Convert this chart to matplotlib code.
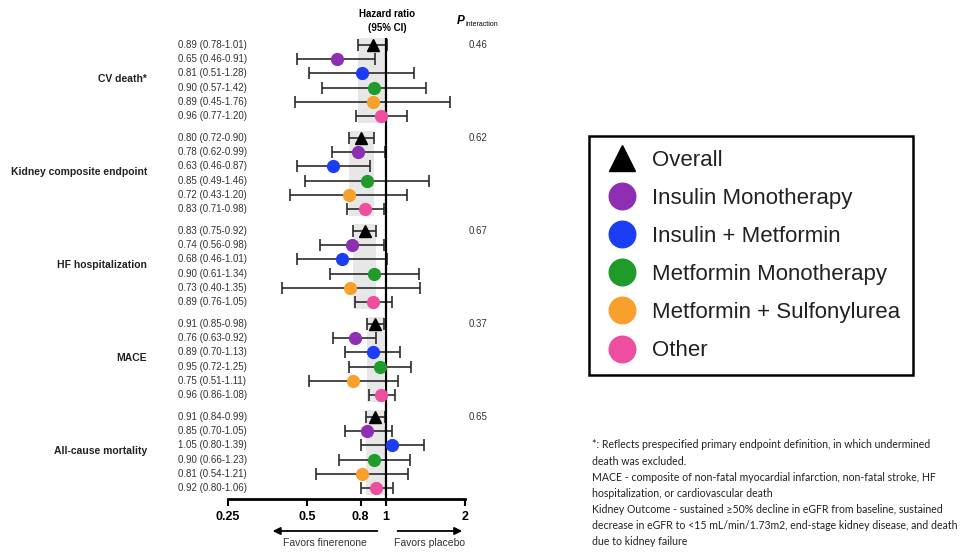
import numpy as np
import matplotlib
matplotlib.use('Agg')
import matplotlib.pyplot as plt
from matplotlib import transforms

plt.rcParams['font.family'] = ['Liberation Sans', 'DejaVu Sans']

# outcomes and treatment subgroups
outcomes = ['CV death*', 'Kidney composite endpoint', 'HF hospitalization',
            'MACE', 'All-cause mortality']
subgroups = ['Overall', 'Insulin Monotherapy', 'Insulin + Metformin',
             'Metformin Monotherapy', 'Metformin + Sulfonylurea', 'Other']
colors = ['black', '#8E2FB3', '#1B3DF6', '#1E9B2A', '#F8A02C', '#EE4E9F']

# hazard ratios and 95% CI, one row per outcome, one column per subgroup
hr = [[0.89, 0.65, 0.81, 0.90, 0.89, 0.96],
      [0.80, 0.78, 0.63, 0.85, 0.72, 0.83],
      [0.83, 0.74, 0.68, 0.90, 0.73, 0.89],
      [0.91, 0.76, 0.89, 0.95, 0.75, 0.96],
      [0.91, 0.85, 1.05, 0.90, 0.81, 0.92]]
lo = [[0.78, 0.46, 0.51, 0.57, 0.45, 0.77],
      [0.72, 0.62, 0.46, 0.49, 0.43, 0.71],
      [0.75, 0.56, 0.46, 0.61, 0.40, 0.76],
      [0.85, 0.63, 0.70, 0.72, 0.51, 0.86],
      [0.84, 0.70, 0.80, 0.66, 0.54, 0.80]]
hi = [[1.01, 0.91, 1.28, 1.42, 1.76, 1.20],
      [0.90, 0.99, 0.87, 1.46, 1.20, 0.98],
      [0.92, 0.98, 1.01, 1.34, 1.35, 1.05],
      [0.98, 0.92, 1.13, 1.25, 1.11, 1.08],
      [0.99, 1.05, 1.39, 1.23, 1.21, 1.06]]
p_int = ['0.46', '0.62', '0.67', '0.37', '0.65']

xticks = [0.25, 0.5, 0.8, 1, 2]
xticklabels = ['0.25', '0.5', '0.8', '1', '2']

footnote = ["*: Reflects prespecified primary endpoint definition, in which undermined",
            "death was excluded.",
            "MACE - composite of non-fatal myocardial infarction, non-fatal stroke, HF",
            "hospitalization, or cardiovascular death",
            "Kidney Outcome - sustained \u226550% decline in eGFR from baseline, sustained",
            "decrease in eGFR to <15 mL/min/1.73m2, end-stage kidney disease, and death",
            "due to kidney failure"]

hr = np.array(hr)
lo = np.array(lo)
hi = np.array(hi)

W, H = 960, 552
fig = plt.figure(figsize=(W / 100, H / 100), dpi=100)


def fx(px):
    return px / W


def fy(py):
    return 1 - py / H


# axes: x from 0.25 to 2 (pixels 228-465), bottom spine at pixel 499
ax = fig.add_axes([fx(228), fy(499), fx(465) - fx(228), (499 - 38) / H])
group_step = 6.55
ax.set_xscale('log')
ax.set_xlim(0.25, 2)
ax.set_ylim(31.97, -0.49)

for s in ['top', 'right', 'left']:
    ax.spines[s].set_visible(False)
ax.spines['bottom'].set_linewidth(2)
ax.set_yticks([])
ax.set_xticks(xticks)
ax.set_xticklabels(xticklabels, fontsize=9, fontweight='bold')
ax.xaxis.set_minor_locator(plt.NullLocator())
ax.tick_params(axis='x', length=5, width=1.5, pad=4)

ax.axvline(1, color='black', lw=1.6, zorder=3)

tr_lab = transforms.blended_transform_factory(fig.transFigure, ax.transData)

for g, name in enumerate(outcomes):
    ys = g * group_step + np.arange(len(subgroups))
    ax.fill_betweenx([ys[0] - 0.5, ys[-1] + 0.5], lo[g, 0], hi[g, 0],
                     color='#E7E7E7', lw=0, zorder=0)
    ax.errorbar(hr[g], ys, xerr=[hr[g] - lo[g], hi[g] - hr[g]], fmt='none',
                ecolor='#2b2b2b', elinewidth=1.2, capsize=4, capthick=1.2, zorder=2)
    for k in range(len(subgroups)):
        ax.plot(hr[g, k], ys[k], marker='^' if k == 0 else 'o', ms=8.5,
                color=colors[k], mec=colors[k], ls='none', zorder=4,
                label=subgroups[k] if g == 0 else None)
        ax.text(fx(178), ys[k], '%.2f (%.2f-%.2f)' % (hr[g, k], lo[g, k], hi[g, k]),
                transform=tr_lab, fontsize=7, color='#333333', va='center', ha='left')
    ax.text(fx(147), ys[0] + 2.4, name, transform=tr_lab, fontsize=7.5,
            fontweight='bold', color='#222222', ha='right', va='center')
    ax.text(fx(478), ys[0], p_int[g], transform=tr_lab, fontsize=7,
            color='#333333', ha='center', va='center')

# headers
fig.text(fx(387), fy(14), 'Hazard ratio', fontsize=7, fontweight='bold', ha='center', va='center')
fig.text(fx(387), fy(28), '(95% CI)', fontsize=7, fontweight='bold', ha='center', va='center')
fig.text(fx(457), fy(21), 'P', fontsize=8.5, fontweight='bold', fontstyle='italic', ha='left', va='center')
fig.text(fx(465), fy(24), 'interaction', fontsize=5, ha='left', va='center')

# favors arrows
tr_arr = transforms.blended_transform_factory(ax.transData, fig.transFigure)
ax.annotate('', xy=(0.361, fy(531)), xytext=(0.95, fy(531)), xycoords=tr_arr, textcoords=tr_arr,
            arrowprops=dict(arrowstyle='-|>', color='black', lw=1.3, mutation_scale=11))
ax.annotate('', xy=(2.0, fy(531)), xytext=(1.08, fy(531)), xycoords=tr_arr, textcoords=tr_arr,
            arrowprops=dict(arrowstyle='-|>', color='black', lw=1.3, mutation_scale=11))
ax.text(0.586, fy(543), 'Favors finerenone', transform=tr_arr, fontsize=7.5,
        color='#333333', ha='center', va='center')
ax.text(1.47, fy(543), 'Favors placebo', transform=tr_arr, fontsize=7.5,
        color='#333333', ha='center', va='center')

# legend
leg = fig.legend(loc='center', bbox_to_anchor=(fx(751), fy(255.5)), fontsize=16,
                 markerscale=2.25, frameon=True, fancybox=False, framealpha=1,
                 borderpad=0.6, labelspacing=0.77, handlelength=1.8, handletextpad=0.45)
leg.get_frame().set_edgecolor('black')
leg.get_frame().set_linewidth(1.8)
for t in leg.get_texts():
    t.set_color('#222222')

# footnote
for i, line in enumerate(footnote):
    fig.text(fx(592), fy(445 + i * 16.1), line, fontsize=7.6, family='Lato',
             color='#222222', ha='left', va='center')

fig.savefig('out.png', dpi=100)
